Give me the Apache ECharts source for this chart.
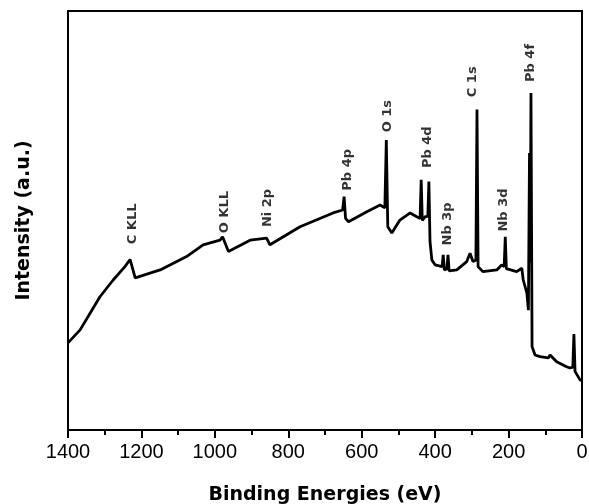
<!DOCTYPE html>
<html>
<head>
<meta charset="utf-8">
<script src="https://cdn.jsdelivr.net/npm/echarts@6/dist/echarts.min.js"></script>
<style>
html,body{margin:0;padding:0;background:#fff;}
#chart{width:589px;height:504px;}
</style>
</head>
<body>
<div id="chart"></div>
<script>
// Binding energy (eV) and intensity (a.u.)
const energies = [1400,1367,1313,1277,1245,1231,1217,1149,1077,1032,986,979,963,904,859,850,768,678,652,648,644,636,586,550,537,533,529,518,496,468,450,441,438,435,427,420,417,414,409,400,381,378,375,368,365,362,341,314,305,297,289,286,283,270,232,219,212,209,206,201,178,164,160,150,146,143,141,139,136,128,114,92,87,69,42,33,25,22,19,16,5,0];
const intensities = [20.8,23.9,31.8,35.8,39.0,40.7,36.3,38.2,41.4,44.2,45.3,46.1,42.6,45.3,45.8,44.2,48.5,51.8,52.5,55.7,50.5,49.7,52.1,53.7,53.0,69.2,48.5,47.0,50.1,51.8,50.9,50.5,59.7,50.0,50.9,51.0,59.3,45.0,40.6,39.4,39.0,41.8,38.2,38.5,41.8,38.0,38.2,40.2,42.2,40.2,40.5,76.5,39.0,37.8,38.2,39.4,39.0,46.1,38.5,38.2,37.8,38.6,35.8,32.6,28.6,66.1,40.0,80.4,19.9,17.9,17.5,17.2,17.9,16.3,15.1,14.8,15.0,22.9,14.0,13.6,11.9,11.9];

// Peak annotations
const peakNames = ["C KLL","O KLL","Ni 2p","Pb 4p","O 1s","Pb 4d","Nb 3p","C 1s","Nb 3d","Pb 4f"];
const peakEnergies = [1224,973,856,638,529,420,366,298,213,139];
const peakLabelHeights = [49.2,52.0,53.0,62.1,74.9,67.5,49.2,83.1,52.5,87.6];

const xTicks = [1400,1200,1000,800,600,400,200,0];

const chart = echarts.init(document.getElementById('chart'), null, {renderer:'canvas'});
const lineData = energies.map((e,i)=>[e,intensities[i]]);
const labelData = peakNames.map((n,i)=>({name:n, value:[peakEnergies[i], peakLabelHeights[i]]}));

chart.setOption({
  animation:false,
  backgroundColor:'#fff',
  grid:{left:68,right:7,top:11,bottom:74,containLabel:false,outerBoundsMode:'none',
    show:true,borderColor:'#000',borderWidth:2,backgroundColor:'transparent'},
  xAxis:{
    type:'value', min:0, max:1400, interval:200, inverse:true,
    name:'Binding Energies (eV)', nameLocation:'middle', nameGap:56,
    nameTextStyle:{fontFamily:'DejaVu Sans',fontWeight:'bold',fontSize:19,color:'#000'},
    axisLine:{show:true,lineStyle:{color:'#000',width:2}},
    axisTick:{show:true,inside:false,length:8,lineStyle:{color:'#000',width:2}},
    minorTick:{show:true,splitNumber:2,length:5,lineStyle:{color:'#000',width:2}},
    splitLine:{show:false},
    axisLabel:{color:'#000',fontFamily:'Liberation Sans',fontSize:20,margin:12,
      formatter:v=>xTicks.includes(v)?String(v):''}
  },
  yAxis:{
    type:'value', min:0, max:100,
    name:'Intensity (a.u.)', nameLocation:'middle', nameGap:34,
    nameTextStyle:{fontFamily:'DejaVu Sans',fontWeight:'bold',fontSize:19,color:'#000'},
    axisLine:{show:true,lineStyle:{color:'#000',width:2}},
    axisTick:{show:false}, axisLabel:{show:false}, splitLine:{show:false}
  },
  series:[
    {type:'line', data:lineData, showSymbol:false, symbol:'none',
     lineStyle:{color:'#000',width:2.8}, z:3},
    {type:'scatter', data:labelData, symbolSize:0, silent:true,
     label:{show:true, position:'inside', rotate:90, formatter:p=>p.name,
       fontFamily:'DejaVu Sans', fontWeight:'bold', fontSize:13, color:'#000'}}
  ]
});
</script>
</body>
</html>
